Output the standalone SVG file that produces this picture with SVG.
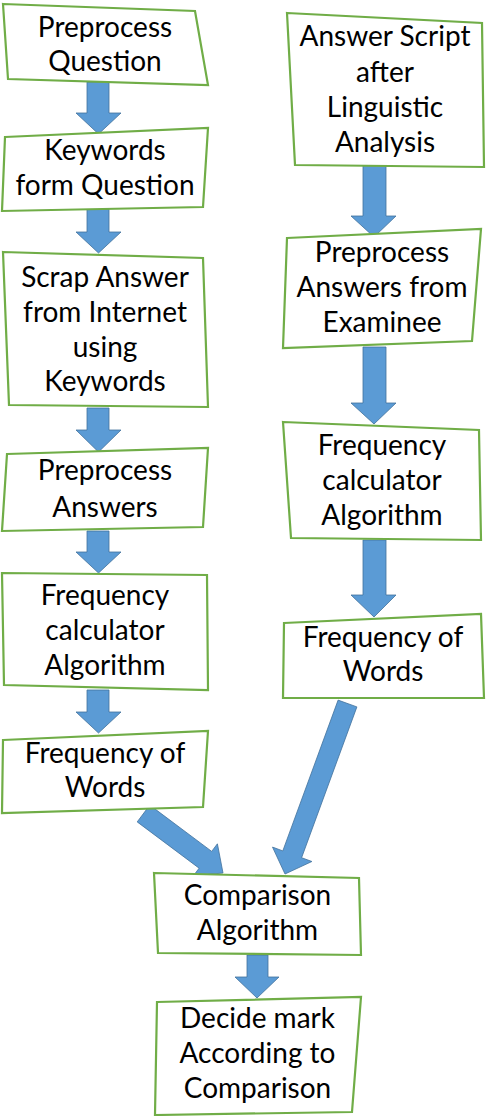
<svg xmlns="http://www.w3.org/2000/svg" width="486" height="1116" viewBox="0 0 486 1116">
<style>
.box{fill:#ffffff;stroke:#70ad47;stroke-width:2.2;stroke-linejoin:miter}
.arr{fill:#5b9bd5;stroke:#41719c;stroke-width:0.8}
text{font-family:Lato,"Liberation Sans",sans-serif;font-size:28px;fill:#000000;text-anchor:middle}
</style>
<rect width="486" height="1116" fill="#ffffff"/>
<g id="connectors">
<polygon class="arr" points="87,82 109,82 109,113 121,113 98.5,134 76,113 87,113"/>
<polygon class="arr" points="87,209 109,209 109,232 121,232 98.5,253 76,232 87,232"/>
<polygon class="arr" points="87,408 109,408 109,430 121,430 98.5,452 76,430 87,430"/>
<polygon class="arr" points="87,531 109,531 109,552 121,552 98.5,573 76,552 87,552"/>
<polygon class="arr" points="87,690 109,690 109,712 121,712 98.5,733 76,712 87,712"/>
<polygon class="arr" points="363,163 386,163 386,216 396,216 374,237 351,216 363,216"/>
<polygon class="arr" points="363,347 386,347 386,403 396,403 374,424 351,403 363,403"/>
<polygon class="arr" points="363,540 386,540 386,595 396,595 374,617 351,595 363,595"/>
<polygon class="arr" points="149.8,805.1 211.7,851.4 217.4,843.8 223,873 193.4,875.8 199.1,868.2 137.2,821.9"/>
<polygon class="arr" points="338.1,700.1 356.9,706.9 301.6,857.7 311.9,861.5 285,874 272.5,847.1 282.8,850.9"/>
<polygon class="arr" points="247,955 268,955 268,977 279,977 257,998 235,977 247,977"/>
</g>
<g id="n1">
<polygon class="box" points="3,4 195,11 208,85 8,79"/>
<text x="105" y="37">Preprocess</text>
<text x="105" y="71">Question</text>
</g>
<g id="n2">
<polygon class="box" points="5,137 208,128 203,207 2,211"/>
<text x="105" y="160">Keywords</text>
<text x="105" y="195">form Question</text>
</g>
<g id="n3">
<polygon class="box" points="3,252 203,258 208,407 9,405"/>
<text x="105" y="287">Scrap Answer</text>
<text x="105" y="322">from Internet</text>
<text x="105" y="357">using</text>
<text x="105" y="391">Keywords</text>
</g>
<g id="n4">
<polygon class="box" points="7,454 208,448 203,527 2,531"/>
<text x="105" y="480">Preprocess</text>
<text x="105" y="517">Answers</text>
</g>
<g id="n5">
<polygon class="box" points="2,573 207,575 208,690 4,685"/>
<text x="105" y="605">Frequency</text>
<text x="105" y="640">calculator</text>
<text x="105" y="675">Algorithm</text>
</g>
<g id="n6">
<polygon class="box" points="3,740 208,731 203,807 2,813"/>
<text x="105" y="763">Frequency of</text>
<text x="105" y="797">Words</text>
</g>
<g id="r1">
<polygon class="box" points="287,13 482,23 484,167 295,165"/>
<text x="385" y="46">Answer Script</text>
<text x="385" y="82">after</text>
<text x="385" y="117">Linguistic</text>
<text x="385" y="152">Analysis</text>
</g>
<g id="r2">
<polygon class="box" points="287,238 481,229 472,341 283,348"/>
<text x="382" y="262">Preprocess</text>
<text x="382" y="297">Answers from</text>
<text x="382" y="332">Examinee</text>
</g>
<g id="r3">
<polygon class="box" points="283,422 479,430 481,540 291,538"/>
<text x="382" y="455">Frequency</text>
<text x="382" y="490">calculator</text>
<text x="382" y="525">Algorithm</text>
</g>
<g id="r4">
<polygon class="box" points="284,623 481,614 484,698 283,698"/>
<text x="383" y="647">Frequency of</text>
<text x="383" y="681">Words</text>
</g>
<g id="c1">
<polygon class="box" points="154,873 359,878 361,955 158,953"/>
<text x="257.5" y="905">Comparison</text>
<text x="257.5" y="940">Algorithm</text>
</g>
<g id="d1">
<polygon class="box" points="157,1002 361,997 352,1112 155,1115"/>
<text x="257.5" y="1028">Decide mark</text>
<text x="257.5" y="1063">According to</text>
<text x="257.5" y="1098">Comparison</text>
</g>
</svg>
